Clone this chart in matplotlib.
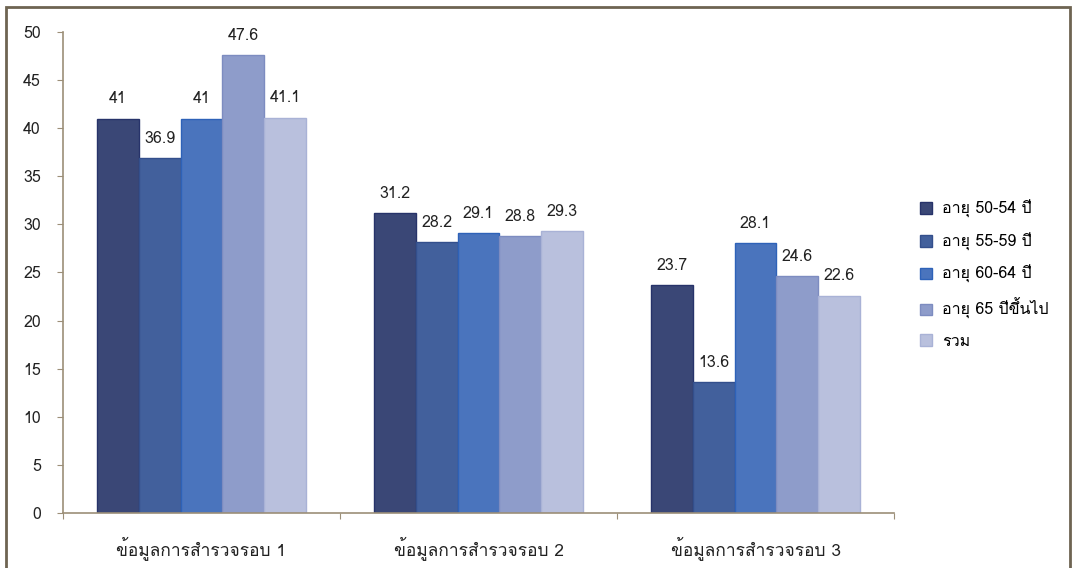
import numpy as np
import matplotlib
matplotlib.use('Agg')
import matplotlib.pyplot as plt
from matplotlib import font_manager
from matplotlib.ft2font import FT2Font
from matplotlib.patches import Rectangle

# %% data
categories = ['ข้อมูลการสำรวจรอบ 1', 'ข้อมูลการสำรวจรอบ 2', 'ข้อมูลการสำรวจรอบ 3']
series = ['อายุ 50-54 ปี', 'อายุ 55-59 ปี', 'อายุ 60-64 ปี', 'อายุ 65 ปีขึ้นไป', 'รวม']
age_50_54 = [41, 31.2, 23.7]
age_55_59 = [36.9, 28.2, 13.6]
age_60_64 = [41, 29.1, 28.1]
age_65_up = [47.6, 28.8, 24.6]
total = [41.1, 29.3, 22.6]
values = [age_50_54, age_55_59, age_60_64, age_65_up, total]
labels = [['41', '31.2', '23.7'], ['36.9', '28.2', '13.6'], ['41', '29.1', '28.1'],
          ['47.6', '28.8', '24.6'], ['41.1', '29.3', '22.6']]

colors = ['#3a4776', '#42609c', '#4a74bd', '#8e9cca', '#b9c0dd']
edges = ['#27336a', '#334f8c', '#2e62b8', '#7d8cc0', '#a9b2d6']


# %% find a font that has Thai glyphs
def thai_font():
    for f in font_manager.fontManager.ttflist:
        try:
            if ord('ข') in FT2Font(f.fname).get_charmap():
                return f.name
        except Exception:
            pass
    return None


tf = thai_font()
fams = ([tf] if tf else []) + ['DejaVu Sans']
plt.rcParams['font.family'] = fams

# %% plot
fig = plt.figure(figsize=(10.72, 5.68), dpi=100)
ax = fig.add_axes([0.0588, 0.0968, 0.7752, 0.847])

x = np.arange(len(categories))
w = 0.151
for i, (vals, name) in enumerate(zip(values, series)):
    pos = x + (i - 2) * w
    ax.bar(pos, vals, w, color=colors[i], edgecolor=edges[i], linewidth=1, label=name)
    for p, v, t in zip(pos, vals, labels[i]):
        ax.annotate(t, (p, v), xytext=(0, 8), textcoords='offset points',
                    ha='center', va='bottom', fontsize=11.5, color='#222222')

ax.set_xlim(-0.5, 2.5)
ax.set_ylim(0, 50)
ax.set_yticks(range(0, 51, 5))
ax.set_xticks([-0.5, 0.5, 1.5, 2.5], minor=False)
ax.set_xticklabels([])
for xi, c in zip(x, categories):
    ax.text(xi, -3.6, c, ha='center', va='center', fontsize=12.5, color='#222222')

for s in ['top', 'right']:
    ax.spines[s].set_visible(False)
for s in ['left', 'bottom']:
    ax.spines[s].set_color('#9c8f78')
    ax.spines[s].set_linewidth(1.2)
ax.tick_params(axis='y', colors='#9c8f78', labelcolor='#222222', labelsize=11.5, length=4, pad=12)
ax.tick_params(axis='x', colors='#9c8f78', length=4)

fig.legend(loc='center left', bbox_to_anchor=(0.845, 0.516), frameon=False, fontsize=11.5,
           handlelength=0.75, handleheight=0.75, handletextpad=0.6, labelspacing=0.92)

# outer frame
fig.patches.append(Rectangle((0.006, -0.02), 0.992, 1.0085, transform=fig.transFigure,
                             fill=False, edgecolor='#6e6452', linewidth=2))

fig.savefig('out.png', dpi=100)
